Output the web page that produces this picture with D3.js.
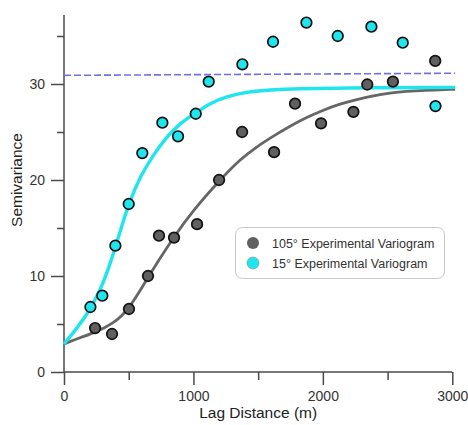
<!DOCTYPE html>
<html><head><meta charset="utf-8">
<script src="https://cdn.jsdelivr.net/npm/d3@7"></script>
<style>body{margin:0;background:#fff}svg{display:block}</style>
</head><body><svg id="c" width="468" height="425"></svg>
<script>
// Experimental variograms
const lag105 = [240, 371, 502, 649, 734, 850, 1028, 1198, 1376, 1623, 1785, 1986, 2236, 2343, 2541, 2868];
const val105 = [4.58, 3.96, 6.56, 10.0, 14.2, 14.0, 15.4, 20.0, 25.0, 22.9, 27.95, 25.9, 27.1, 29.95, 30.25, 32.4];
const lag15 = [204, 296, 397, 500, 605, 760, 881, 1018, 1118, 1378, 1615, 1873, 2115, 2375, 2617, 2870];
const val15 = [6.77, 7.95, 13.16, 17.5, 22.8, 25.97, 24.55, 26.9, 30.25, 32.05, 34.4, 36.4, 35.0, 35.97, 34.3, 27.7];
// Model curves
const modelLag105 = [0, 124, 247, 381, 502, 649, 742, 845, 1000, 1200, 1360, 1489, 1618, 1747, 1876, 2004, 2133, 2262, 2390, 2519, 2648, 2777, 3022];
const modelVal105 = [2.92, 3.58, 4.15, 5.05, 6.5, 9.86, 11.84, 13.99, 16.88, 19.93, 22.15, 23.47, 24.58, 25.63, 26.53, 27.29, 27.92, 28.4, 28.78, 29.06, 29.24, 29.34, 29.45];
const modelLag15 = [0, 72, 175, 278, 355, 397, 446, 500, 587, 690, 793, 896, 1018, 1128, 1257, 1400, 1618, 2133, 3022];
const modelVal15 = [2.92, 4.1, 5.9, 8.4, 11.2, 13.0, 15.2, 17.5, 20.35, 22.6, 24.5, 25.9, 27.0, 28.0, 28.7, 29.15, 29.45, 29.6, 29.65];
// Sill reference line
const sillLag = [0, 3022];
const sillVal = [30.9, 31.12];
const xTicks = [0, 1000, 2000, 3000];
const xMinor = [500, 1500, 2500];
const yTicks = [0, 10, 20, 30];
const yMinor = [5, 15, 25, 35];
const legendLabels = ["105° Experimental Variogram", "15° Experimental Variogram"];

const grey = "#606060", cyan = "#1fe6ee", axisCol = "#4a4a4a";
const svg = d3.select("#c");
const x = d3.scaleLinear().domain([0, 3000]).range([64, 452.3]);
const y = d3.scaleLinear().domain([0, 30]).range([372, 84]);
const font = "Liberation Sans, Arial, sans-serif";

// axes
const xAxis = svg.append("g").attr("transform", "translate(0,372)")
  .call(d3.axisBottom(x).tickValues(xTicks).tickSize(13).tickPadding(6).tickFormat(d3.format("d")));
const xAxisMinor = svg.append("g").attr("transform", "translate(0,372)")
  .call(d3.axisBottom(x).tickValues(xMinor).tickSize(8).tickFormat(""));
const yAxis = svg.append("g").attr("transform", "translate(64,0)")
  .call(d3.axisLeft(y).tickValues(yTicks).tickSize(13).tickPadding(6));
const yAxisMinor = svg.append("g").attr("transform", "translate(64,0)")
  .call(d3.axisLeft(y).tickValues(yMinor).tickSize(7).tickFormat(""));
[xAxis, xAxisMinor, yAxis, yAxisMinor].forEach(g => {
  g.select(".domain").remove();
  g.selectAll("line").attr("stroke", axisCol).attr("stroke-width", 1.5);
  g.selectAll("text").attr("font-family", font).attr("font-size", 14).attr("fill", "#333");
});
svg.append("line").attr("x1", x(0)).attr("x2", x(3000)).attr("y1", y(0)).attr("y2", y(0))
  .attr("stroke", axisCol).attr("stroke-width", 1.5);
svg.append("line").attr("x1", x(0)).attr("x2", x(0)).attr("y1", y(0)).attr("y2", y(37.2))
  .attr("stroke", axisCol).attr("stroke-width", 1.5);

svg.append("text").attr("x", x(1500)).attr("y", 418).attr("text-anchor", "middle")
  .attr("font-family", font).attr("font-size", 15.5).attr("fill", "#222").text("Lag Distance (m)");
svg.append("text").attr("transform", "translate(22,180) rotate(-90)").attr("text-anchor", "middle")
  .attr("font-family", font).attr("font-size", 15.5).attr("fill", "#222").text("Semivariance");

// sill line
const line = d3.line().x(d => x(d[0])).y(d => y(d[1]));
svg.append("path").datum(d3.zip(sillLag, sillVal)).attr("d", line)
  .attr("fill", "none").attr("stroke", "#7070e6").attr("stroke-width", 1.6).attr("stroke-dasharray", "7,3");

// model curves
const curve = d3.line().x(d => x(d[0])).y(d => y(d[1])).curve(d3.curveBasis);
svg.append("path").datum(d3.zip(modelLag105, modelVal105)).attr("d", curve)
  .attr("fill", "none").attr("stroke", "#666").attr("stroke-width", 2.8);
svg.append("path").datum(d3.zip(modelLag15, modelVal15)).attr("d", curve)
  .attr("fill", "none").attr("stroke", cyan).attr("stroke-width", 3.4);

// points
function pts(lags, vals, fill) {
  svg.append("g").selectAll("circle").data(d3.zip(lags, vals)).join("circle")
    .attr("cx", d => x(d[0])).attr("cy", d => y(d[1])).attr("r", 5.3)
    .attr("fill", fill).attr("stroke", "#111").attr("stroke-width", 1.7);
}
pts(lag15, val15, cyan);
pts(lag105, val105, grey);

// legend
const lg = svg.append("g");
lg.append("rect").attr("x", 235.5).attr("y", 227.5).attr("width", 209).attr("height", 51).attr("rx", 7)
  .attr("fill", "#fff").attr("stroke", "#c8c8c8").attr("stroke-width", 1);
[grey, cyan].forEach((c, i) => {
  lg.append("circle").attr("cx", 253).attr("cy", 243 + i * 20).attr("r", 6)
    .attr("fill", c).attr("stroke", i === 0 ? "none" : "#888").attr("stroke-width", 0.6);
  lg.append("text").attr("x", 272).attr("y", 247.5 + i * 20).attr("font-family", font)
    .attr("font-size", 12.5).attr("fill", "#333").text(legendLabels[i]);
});
</script></body></html>
